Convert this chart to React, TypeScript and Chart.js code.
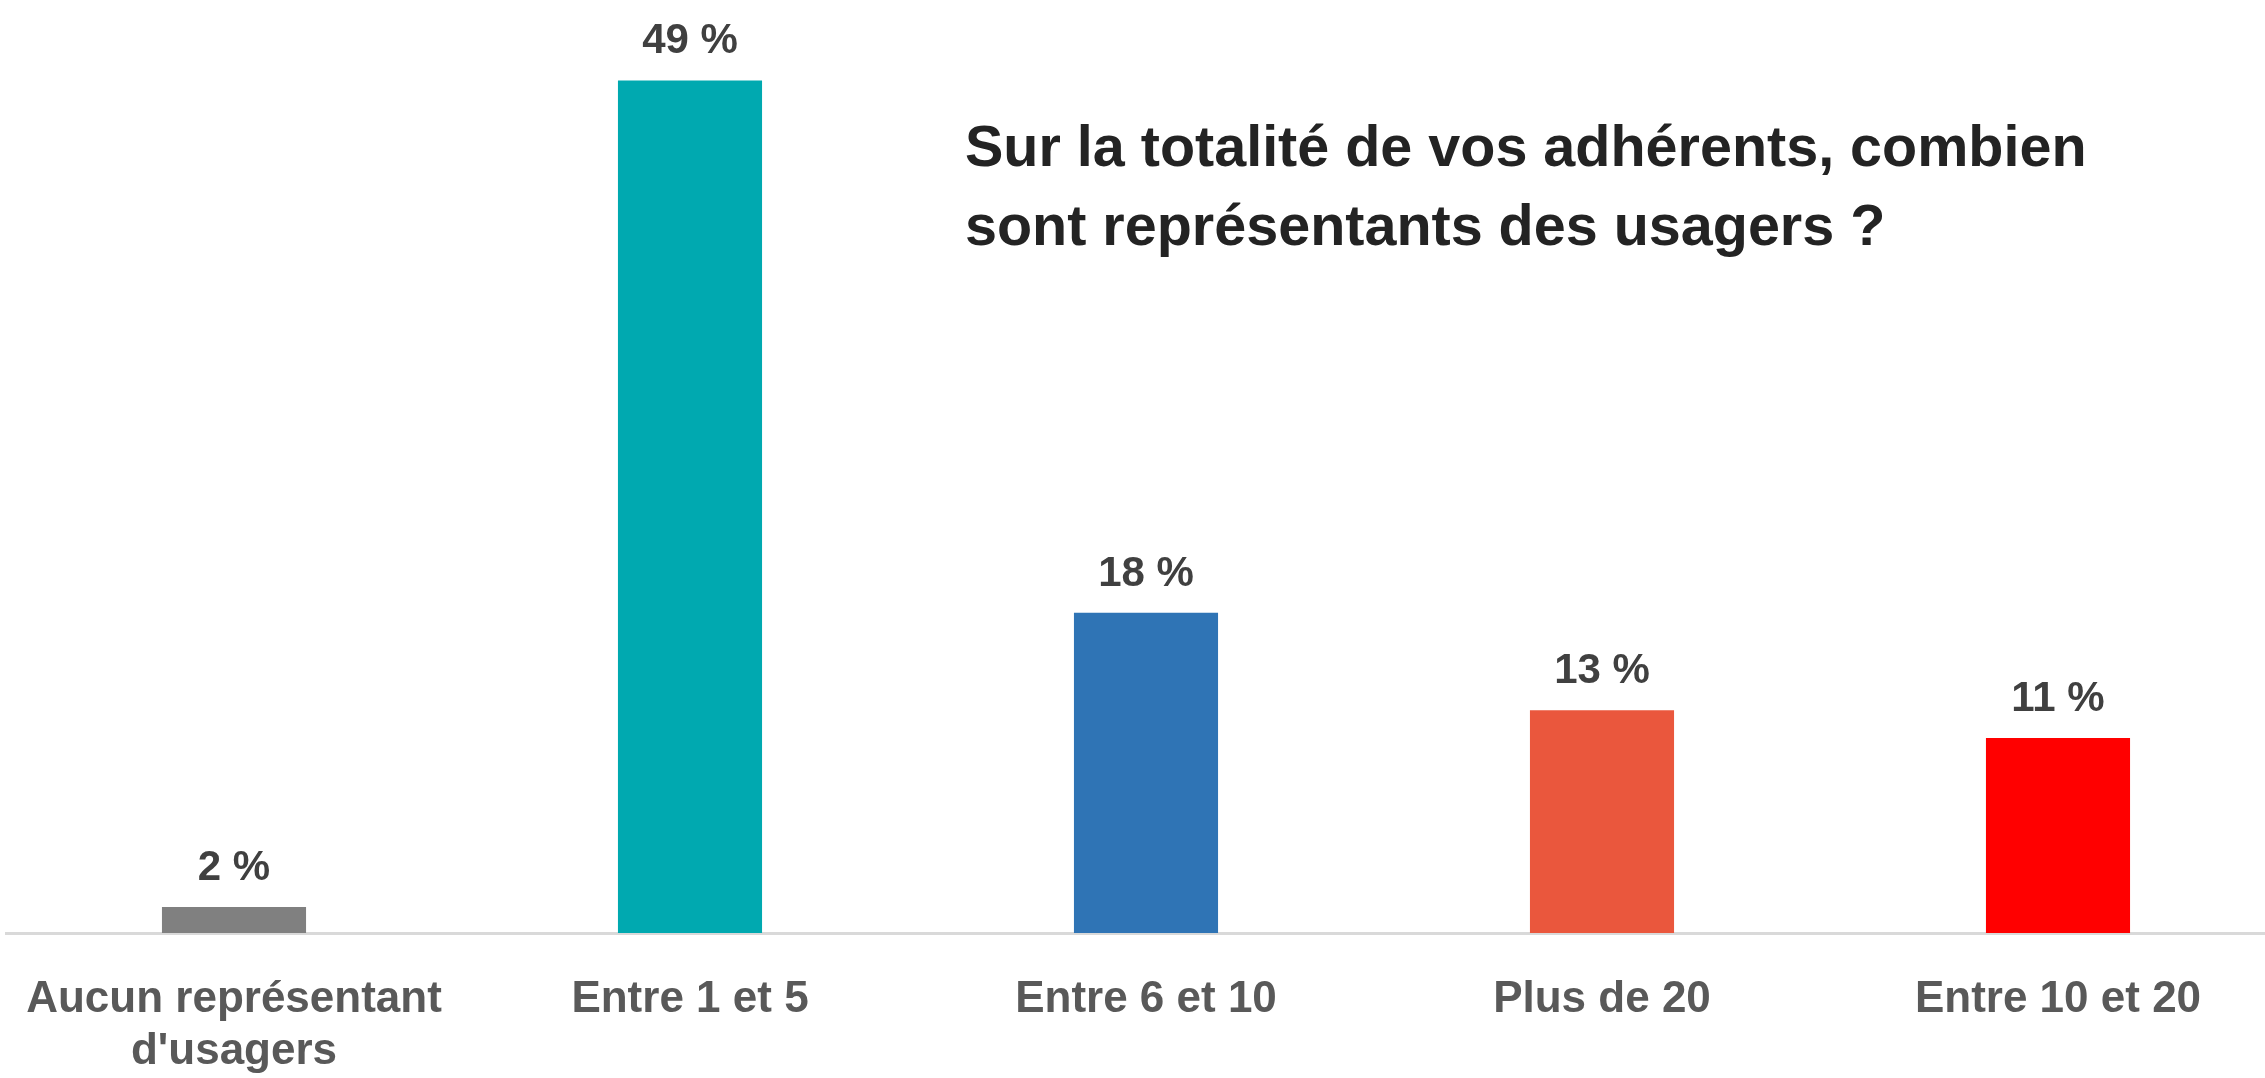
import React, { useEffect, useRef } from "react";
import { Chart, registerables } from "chart.js";

Chart.register(...registerables);

const categories: (string | string[])[] = [
  ["Aucun représentant", "d'usagers"],
  "Entre 1 et 5",
  "Entre 6 et 10",
  "Plus de 20",
  "Entre 10 et 20",
];
const values: number[] = [1.5, 49, 18.4, 12.8, 11.2];
const displayPct: number[] = [2, 49, 18, 13, 11];
const barColors: string[] = ["#808080", "#00A9B0", "#2F74B5", "#EA573D", "#FF0000"];
const titleLines: string[] = [
  "Sur la totalité de vos adhérents, combien",
  "sont représentants des usagers ?",
];

const FONT = "'Liberation Sans', Arial, sans-serif";

const valueLabelPlugin = {
  id: "valueLabels",
  afterDatasetsDraw(chart: any) {
    const ctx = chart.ctx;
    const meta = chart.getDatasetMeta(0);
    ctx.save();
    ctx.font = `bold 42px ${FONT}`;
    ctx.fillStyle = "#404040";
    ctx.textAlign = "center";
    ctx.textBaseline = "alphabetic";
    meta.data.forEach((bar: any, i: number) => {
      ctx.fillText(`${displayPct[i]} %`, bar.x, bar.y - 27);
    });
    ctx.restore();
  },
};

export default function App() {
  const canvasRef = useRef<HTMLCanvasElement | null>(null);

  useEffect(() => {
    if (!canvasRef.current) return;
    const chart = new Chart(canvasRef.current, {
      type: "bar",
      data: {
        labels: categories,
        datasets: [
          {
            data: values,
            backgroundColor: barColors,
            borderWidth: 0,
            barPercentage: 0.316,
            categoryPercentage: 1,
          },
        ],
      },
      options: {
        responsive: false,
        animation: false,
        devicePixelRatio: 1,
        layout: { padding: { left: 6, right: 6, top: 63, bottom: 0 } },
        plugins: {
          legend: { display: false },
          tooltip: { enabled: false },
          title: { display: false },
        },
        scales: {
          y: {
            display: false,
            min: 0,
            max: 50,
          },
          x: {
            grid: { display: false, drawTicks: true, tickLength: 40 },
            border: { display: true, color: "#D9D9D9", width: 3 },
            ticks: {
              color: "#595959",
              font: { family: FONT, size: 44, weight: "bold", lineHeight: 1.2 },
              padding: 0,
              autoSkip: false,
              maxRotation: 0,
              minRotation: 0,
            },
            afterFit: (scale: any) => {
              scale.height = 145;
            },
          },
        },
      },
      plugins: [valueLabelPlugin],
    });
    return () => chart.destroy();
  }, []);

  return (
    <div
      style={{
        position: "fixed",
        left: 0,
        top: 0,
        width: 2265,
        height: 1078,
        overflow: "hidden",
        background: "#ffffff",
      }}
    >
      <canvas
        ref={canvasRef}
        width={2292}
        height={1078}
        style={{ position: "absolute", left: 0, top: 0, width: 2292, height: 1078 }}
      />
      <div
        style={{
          position: "absolute",
          left: 965,
          top: 107,
          fontFamily: FONT,
          fontWeight: "bold",
          fontSize: 57.5,
          lineHeight: "79px",
          color: "#232323",
          whiteSpace: "nowrap",
        }}
      >
        {titleLines[0]}
        <br />
        {titleLines[1]}
      </div>
    </div>
  );
}
